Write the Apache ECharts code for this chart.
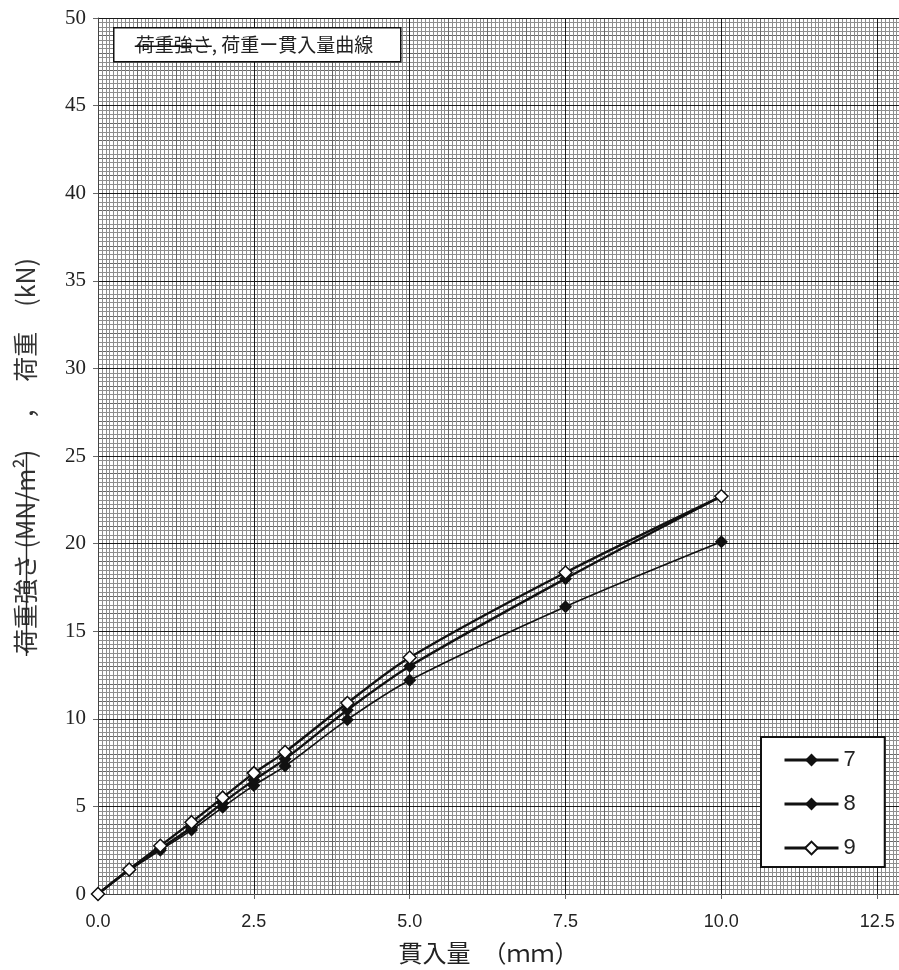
<!DOCTYPE html>
<html>
<head>
<meta charset="utf-8">
<script src="https://cdn.jsdelivr.net/npm/echarts@6/dist/echarts.min.js"></script>
<style>
  html, body { margin: 0; padding: 0; background: #fff; }
  #chart { width: 899px; height: 970px; }
</style>
</head>
<body>
<div id="chart"></div>
<script>
// Penetration (mm) at each reading
const penetration = [0, 0.5, 1.0, 1.5, 2.0, 2.5, 3.0, 4.0, 5.0, 7.5, 10.0];
// Load (kN) per specimen
const load7 = [0, 1.35, 2.5, 3.65, 4.95, 6.2, 7.3, 9.95, 12.2, 16.4, 20.1];
const load8 = [0, 1.4, 2.6, 3.8, 5.2, 6.5, 7.7, 10.5, 13.0, 18.0, 22.7];
const load9 = [0, 1.4, 2.75, 4.1, 5.5, 6.9, 8.1, 10.9, 13.5, 18.35, 22.7];

const seriesNames = ['7', '8', '9'];
const xTicks = [0, 2.5, 5, 7.5, 10, 12.5];
const yTicks = [0, 5, 10, 15, 20, 25, 30, 35, 40, 45, 50];

const titleText = '荷重強さ, 荷重ー貫入量曲線';
const xName = '貫入量　（ｍｍ）';
const yName = '荷重強さ (MN/m²)　 ，　荷重　(kN)';

const pairs = ys => penetration.map((x, i) => [x, ys[i]]);

const chart = echarts.init(document.getElementById('chart'), null, { renderer: 'canvas' });

const lineSeries = (name, ys, filled, width) => ({
  name: name,
  type: 'line',
  xAxisIndex: 0,
  yAxisIndex: 0,
  data: pairs(ys),
  smooth: 0.3,
  symbol: 'diamond',
  symbolSize: 13,
  lineStyle: { color: '#111', width: width },
  itemStyle: { color: filled ? '#111' : '#fff', borderColor: '#111', borderWidth: filled ? 0 : 1.5 },
  emphasis: { disabled: true },
  z: filled ? 3 : 4
});

chart.setOption({
  animation: false,
  backgroundColor: '#fff',
  grid: { left: 98, top: 18, right: 0, bottom: 73, containLabel: false },
  xAxis: [
    {
      type: 'value', min: 0, max: 12.85, interval: 2.5,
      name: xName, nameLocation: 'middle', nameGap: 47,
      nameTextStyle: { fontFamily: 'Noto Sans CJK JP', fontSize: 24, color: '#222', padding: [0, 20, 0, 0] },
      axisLine: { show: true, lineStyle: { color: '#444', width: 1 } },
      axisTick: { show: true, length: 5, lineStyle: { color: '#666' } },
      axisLabel: {
        showMaxLabel: false, margin: 19,
        fontFamily: 'Liberation Sans', fontSize: 18, color: '#222',
        formatter: v => xTicks.includes(v) ? v.toFixed(1) : ''
      },
      splitLine: { show: true, lineStyle: { color: '#1a1a1a', width: 1 } },
      z: 2
    },
    {
      type: 'value', min: 0, max: 12.85, interval: 0.625,
      show: true,
      axisLine: { show: false }, axisTick: { show: false }, axisLabel: { show: false },
      splitLine: { show: true, lineStyle: { color: '#666', width: 1 } },
      minorTick: { show: false, splitNumber: 10 },
      minorSplitLine: { show: true, lineStyle: { color: '#8e8e8e', width: 1 } }
    }
  ],
  yAxis: [
    {
      type: 'value', min: 0, max: 50, interval: 5,
      name: yName, nameLocation: 'middle', nameGap: 60, nameRotate: 90,
      nameTextStyle: { fontFamily: 'Noto Sans CJK JP', fontSize: 25, color: '#333' },
      axisLine: { show: true, lineStyle: { color: '#444', width: 1 } },
      axisTick: { show: true, length: 5, lineStyle: { color: '#666' } },
      axisLabel: {
        margin: 12,
        fontFamily: 'Liberation Serif', fontSize: 21, color: '#222',
        formatter: v => yTicks.includes(v) ? String(v) : ''
      },
      splitLine: { show: true, lineStyle: { color: '#1a1a1a', width: 1 } },
      z: 2
    },
    {
      type: 'value', min: 0, max: 50, interval: 1,
      position: 'left',
      axisLine: { show: false }, axisTick: { show: false }, axisLabel: { show: false },
      splitLine: { show: true, lineStyle: { color: '#666', width: 1 } },
      minorTick: { show: false, splitNumber: 4 },
      minorSplitLine: { show: true, lineStyle: { color: '#8e8e8e', width: 1 } }
    }
  ],
  legend: {
    data: seriesNames,
    orient: 'vertical',
    left: 761, top: 737,
    padding: [10, 29, 6, 22],
    itemWidth: 54, itemHeight: 16, itemGap: 18,
    backgroundColor: '#fff',
    borderColor: '#111', borderWidth: 2,
    lineStyle: { width: 3 },
    textStyle: { fontFamily: 'Liberation Sans', fontSize: 22, color: '#222', lineHeight: 26 },
    selectedMode: false
  },
  series: [
    lineSeries('7', load7, true, 1.6),
    lineSeries('8', load8, true, 2.4),
    lineSeries('9', load9, false, 2.4)
  ],
  graphic: [
    {
      type: 'group', left: 113, top: 27, z: 100,
      children: [
        { type: 'rect', z: 100, shape: { x: 0, y: 0, width: 287, height: 34 },
          style: { fill: '#fff', stroke: '#111', lineWidth: 1.5 } },
        { type: 'text', z: 101, x: 22, y: 17,
          style: { text: titleText, fontFamily: 'Noto Sans CJK JP', fontSize: 19, fill: '#222',
                   textAlign: 'left', textVerticalAlign: 'middle' } },
        // strike-through across 荷重強さ in the caption
        { type: 'line', z: 102, shape: { x1: 21, y1: 18.5, x2: 98, y2: 18.5 },
          style: { stroke: '#111', lineWidth: 1.4 } }
      ]
    },
    // strike-through across the load-intensity part of the y-axis title
    { type: 'line', z: 100, shape: { x1: 26.5, y1: 452, x2: 26.5, y2: 656 },
      style: { stroke: '#222', lineWidth: 1.4 } }
  ]
});
</script>
</body>
</html>
